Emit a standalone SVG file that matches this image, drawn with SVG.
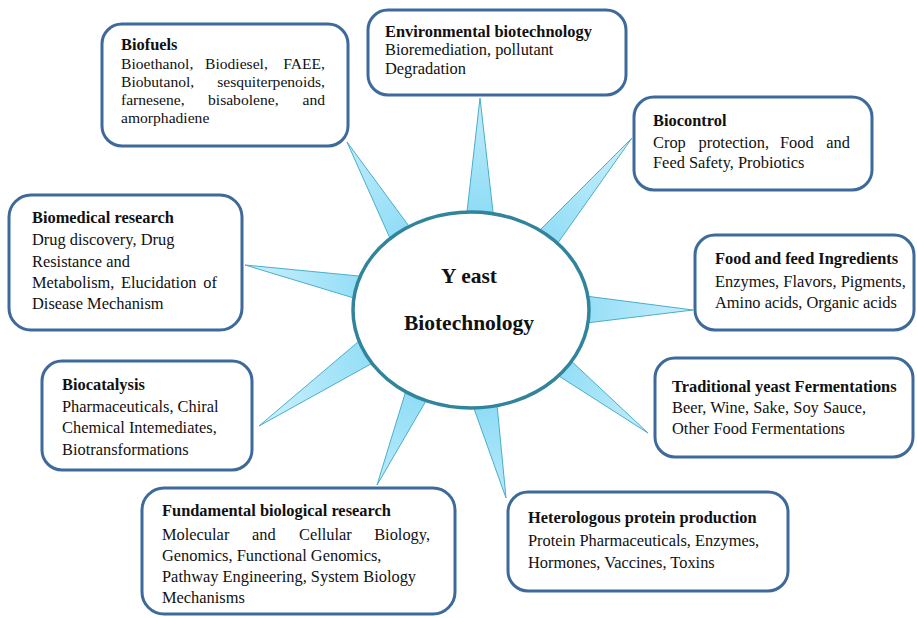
<svg xmlns="http://www.w3.org/2000/svg" width="917" height="618" viewBox="0 0 917 618">
  <style>
    .box { fill: #ffffff; stroke: #3e6a9b; stroke-width: 3; }
    .spike { fill: url(#spikeFill); stroke: #4aaecb; stroke-width: 1; stroke-linejoin: miter; }
    .hub { fill: #ffffff; stroke: #31849b; stroke-width: 3.5; }
    text { font-family: "Liberation Serif", "Times New Roman", serif; font-size: 16.4px; fill: #111111; }
    .t { font-weight: bold; }
    .end { text-anchor: end; }
    .tight { font-size: 15.6px; }
    .hubtext { font-weight: bold; font-size: 21.5px; text-anchor: middle; }
  </style>
  <defs>
    <radialGradient id="spikeFill" gradientUnits="userSpaceOnUse" cx="471" cy="310" r="240">
      <stop offset="0.4" stop-color="#8edcf6"/>
      <stop offset="1" stop-color="#cdf1fc"/>
    </radialGradient>
  </defs>

  <!-- spikes radiating from the hub towards each application area -->
  <g id="connectors">
    <polygon class="spike" points="480,98 465.5,225 494.5,225"/>
    <polygon class="spike" points="347,142 393,245 414,233"/>
    <polygon class="spike" points="632,138 534,236 555,247"/>
    <polygon class="spike" points="245,265 369,277 367,302"/>
    <polygon class="spike" points="693,310 578,295 578,324"/>
    <polygon class="spike" points="259,426 365,336 378,360"/>
    <polygon class="spike" points="648,433 553.5,372.6 565.5,355.6"/>
    <polygon class="spike" points="377,485 408,384 430,394"/>
    <polygon class="spike" points="506,498 471.4,401.3 496.4,398.3"/>
  </g>

  <g id="hub">
    <ellipse class="hub" cx="471" cy="310" rx="118" ry="98"/>
    <text class="hubtext" x="469" y="283">Y east</text>
    <text class="hubtext" x="469" y="330">Biotechnology</text>
  </g>

  <!-- justified lines are set word by word -->
  <g id="biofuels">
    <rect class="box" x="102" y="24" width="246" height="122" rx="20"/>
    <text class="t" x="121" y="50">Biofuels</text>
    <text class="tight" y="69"><tspan x="121">Bioethanol,</tspan><tspan x="205">Biodiesel,</tspan></text>
    <text class="tight end" x="325" y="69">FAEE,</text>
    <text class="tight" x="121" y="87">Biobutanol,</text>
    <text class="tight end" x="325" y="87">sesquiterpenoids,</text>
    <text class="tight" y="105"><tspan x="121">farnesene,</tspan><tspan x="208">bisabolene,</tspan></text>
    <text class="tight end" x="325" y="105">and</text>
    <text class="tight" x="121" y="123">amorphadiene</text>
  </g>

  <g id="environmental">
    <rect class="box" x="368" y="10" width="258" height="85" rx="20"/>
    <text class="t" x="385" y="37">Environmental biotechnology</text>
    <text x="385" y="55">Bioremediation, pollutant</text>
    <text x="385" y="74">Degradation</text>
  </g>

  <g id="biocontrol">
    <rect class="box" x="634" y="97" width="238" height="93" rx="20"/>
    <text class="t" x="653" y="126">Biocontrol</text>
    <text y="148"><tspan x="653">Crop</tspan><tspan x="698.5">protection,</tspan><tspan x="780">Food</tspan></text>
    <text class="end" x="850" y="148">and</text>
    <text x="653" y="168">Feed Safety, Probiotics</text>
  </g>

  <g id="biomedical">
    <rect class="box" x="9" y="195" width="233" height="135" rx="22"/>
    <text class="t" x="32" y="223">Biomedical research</text>
    <text x="32" y="245">Drug discovery, Drug</text>
    <text x="32" y="267">Resistance and</text>
    <text y="288"><tspan x="32">Metabolism,</tspan><tspan x="121">Elucidation</tspan></text>
    <text class="end" x="217" y="288">of</text>
    <text x="32" y="309">Disease Mechanism</text>
  </g>

  <g id="food-feed">
    <rect class="box" x="695" y="235" width="219" height="95" rx="20"/>
    <text class="t" x="715" y="264">Food and feed Ingredients</text>
    <text x="715" y="287">Enzymes, Flavors, Pigments,</text>
    <text x="715" y="308">Amino acids, Organic acids</text>
  </g>

  <g id="biocatalysis">
    <rect class="box" x="42" y="361" width="210" height="109" rx="20"/>
    <text class="t" x="62" y="390">Biocatalysis</text>
    <text x="62" y="412">Pharmaceuticals, Chiral</text>
    <text x="62" y="433">Chemical Intemediates,</text>
    <text x="62" y="455">Biotransformations</text>
  </g>

  <g id="traditional">
    <rect class="box" x="655" y="358" width="258" height="99" rx="20"/>
    <text class="t" x="672" y="392">Traditional yeast Fermentations</text>
    <text x="672" y="413">Beer, Wine, Sake, Soy Sauce,</text>
    <text x="672" y="434">Other Food Fermentations</text>
  </g>

  <g id="fundamental">
    <rect class="box" x="142" y="488" width="313" height="126" rx="22"/>
    <text class="t" x="162" y="516">Fundamental biological research</text>
    <text y="540"><tspan x="162">Molecular</tspan><tspan x="252">and</tspan><tspan x="299">Cellular</tspan></text>
    <text class="end" x="430" y="540">Biology,</text>
    <text x="162" y="561">Genomics, Functional Genomics,</text>
    <text x="162" y="582">Pathway Engineering, System Biology</text>
    <text x="162" y="603">Mechanisms</text>
  </g>

  <g id="heterologous">
    <rect class="box" x="508" y="492" width="280" height="99" rx="20"/>
    <text class="t" x="528" y="523">Heterologous protein production</text>
    <text x="528" y="546">Protein Pharmaceuticals, Enzymes,</text>
    <text x="528" y="568">Hormones, Vaccines, Toxins</text>
  </g>
</svg>
